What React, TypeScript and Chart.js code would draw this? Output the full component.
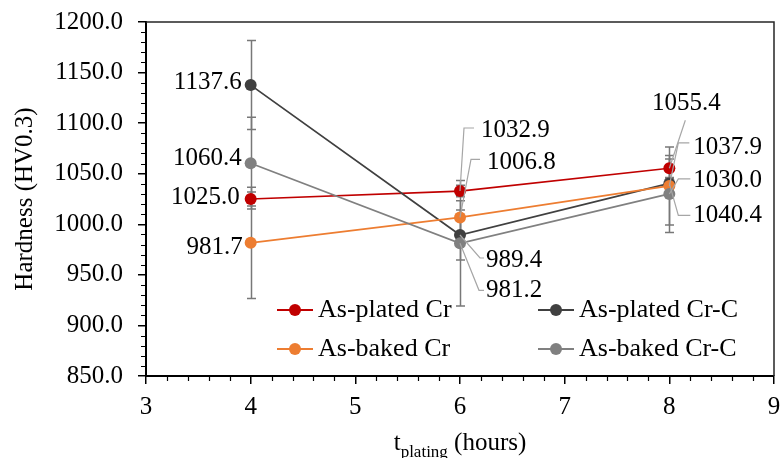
import { useEffect, useRef } from "react";
import { Chart, registerables } from "chart.js";

Chart.register(...registerables);

// ---------- data ----------
const X_VALUES = [4, 6, 8];
const SERIES_NAMES = ["As-plated Cr", "As-plated Cr-C", "As-baked Cr", "As-baked Cr-C"];
const PLATED_CR = [1025.0, 1032.9, 1055.4];
const PLATED_CR_C = [1137.6, 989.4, 1040.4];
const BAKED_CR = [981.7, 1006.8, 1037.9];
const BAKED_CR_C = [1060.4, 981.2, 1030.0];
const PLATED_CR_ERR = [7, 5.6, 9.1];
const PLATED_CR_C_ERR = [44, 24.7, 5];
const BAKED_CR_ERR = [55, 16.5, 38.6];
const BAKED_CR_C_ERR = [45.4, 62, 38];
const X_MIN = 3;
const X_MAX = 9;
const X_STEP = 1;
const Y_MIN = 850;
const Y_MAX = 1200;
const Y_STEP = 50;
const Y_TITLE = "Hardness (HV0.3)";
const X_TITLE_MAIN = "t";
const X_TITLE_SUB = "plating";
const X_TITLE_REST = " (hours)";

const SERIES_VALUES = [PLATED_CR, PLATED_CR_C, BAKED_CR, BAKED_CR_C];
const SERIES_ERRORS = [PLATED_CR_ERR, PLATED_CR_C_ERR, BAKED_CR_ERR, BAKED_CR_C_ERR];

// ---------- styles ----------
const COLORS = ["#C00000", "#404040", "#ED7D31", "#808080"];
const FONT_FAMILY = "'Liberation Serif', 'Times New Roman', serif";
const FONT_SIZE = 25;
const LEGEND_FONT_SIZE = 26;
const ERR_COLOR = "#787878";
const LEADER_COLOR = "#A6A6A6";

type LabelSpec = { s: number; i: number; align: CanvasTextAlign; dx: number; dy: number; leader: number[] | null };
const LABEL_LAYOUT: LabelSpec[] = [
  { s: 1, i: 0, align: "right", dx: -9, dy: -3, leader: null },
  { s: 3, i: 0, align: "right", dx: -9, dy: -5, leader: null },
  { s: 0, i: 0, align: "right", dx: -11, dy: -2, leader: null },
  { s: 2, i: 0, align: "right", dx: -8, dy: 5, leader: null },
  { s: 0, i: 1, align: "left", dx: 21, dy: -61, leader: [4, -63, 14] },
  { s: 2, i: 1, align: "left", dx: 27, dy: -55, leader: [11, -58, 20] },
  { s: 1, i: 1, align: "left", dx: 26, dy: 25, leader: [20, 23, 24] },
  { s: 3, i: 1, align: "left", dx: 26, dy: 47, leader: [19, 47, 24] },
  { s: 0, i: 2, align: "center", dx: 17, dy: -65, leader: [16, -48, 16] },
  { s: 2, i: 2, align: "left", dx: 24, dy: -39, leader: [9, -43, 20] },
  { s: 3, i: 2, align: "left", dx: 24, dy: -14, leader: [9, -15, 21] },
  { s: 1, i: 2, align: "left", dx: 24, dy: 32, leader: [9, 32, 21] },
];

const LEGEND_COLS = [277, 538];
const LEGEND_ROWS = [310, 349];

const decorPlugin = {
  id: "decor",
  beforeDatasetsDraw(chart: any) {
    const { ctx, chartArea: a, scales } = chart;
    const x = scales.x;
    const y = scales.y;
    ctx.save();
    ctx.strokeStyle = "#262626";
    ctx.lineWidth = 1.5;
    ctx.beginPath();
    ctx.moveTo(a.left, a.top);
    ctx.lineTo(a.right, a.top);
    ctx.lineTo(a.right, a.bottom);
    ctx.stroke();
    ctx.strokeStyle = ERR_COLOR;
    ctx.lineWidth = 1.5;
    SERIES_VALUES.forEach((vals, s) => {
      vals.forEach((v, i) => {
        const e = SERIES_ERRORS[s][i];
        const px = Math.round(x.getPixelForValue(X_VALUES[i])) + 0.5;
        const t = y.getPixelForValue(v + e);
        const b = y.getPixelForValue(v - e);
        ctx.beginPath();
        ctx.moveTo(px, t);
        ctx.lineTo(px, b);
        ctx.moveTo(px - 4.5, t);
        ctx.lineTo(px + 4.5, t);
        ctx.moveTo(px - 4.5, b);
        ctx.lineTo(px + 4.5, b);
        ctx.stroke();
      });
    });
    ctx.restore();
  },
  afterDatasetsDraw(chart: any) {
    const { ctx, scales } = chart;
    const x = scales.x;
    const y = scales.y;
    ctx.save();
    ctx.font = `${FONT_SIZE}px ${FONT_FAMILY}`;
    ctx.textBaseline = "middle";
    ctx.fillStyle = "#000";
    LABEL_LAYOUT.forEach((l) => {
      const v = SERIES_VALUES[l.s][l.i];
      const px = x.getPixelForValue(X_VALUES[l.i]);
      const py = y.getPixelForValue(v);
      if (l.leader) {
        const [cx, cy, ex] = l.leader;
        ctx.strokeStyle = LEADER_COLOR;
        ctx.lineWidth = 1.2;
        ctx.beginPath();
        ctx.moveTo(px + ex, py + cy);
        ctx.lineTo(px + cx, py + cy);
        ctx.lineTo(px, py);
        ctx.stroke();
      }
      ctx.textAlign = l.align;
      ctx.fillText(v.toFixed(1), px + l.dx, py + l.dy);
    });
    ctx.font = `${LEGEND_FONT_SIZE}px ${FONT_FAMILY}`;
    SERIES_NAMES.forEach((name, k) => {
      const col = k % 2;
      const row = Math.floor(k / 2);
      const lx = LEGEND_COLS[col];
      const ly = LEGEND_ROWS[row];
      ctx.strokeStyle = COLORS[k];
      ctx.lineWidth = 2;
      ctx.beginPath();
      ctx.moveTo(lx, ly);
      ctx.lineTo(lx + 36, ly);
      ctx.stroke();
      ctx.fillStyle = COLORS[k];
      ctx.beginPath();
      ctx.arc(lx + 18, ly, 6, 0, Math.PI * 2);
      ctx.fill();
      ctx.fillStyle = "#000";
      ctx.textAlign = "left";
      ctx.fillText(name, lx + 41, ly);
    });
    ctx.restore();
  },
  afterDraw(chart: any) {
    const { ctx, chartArea: a, scales } = chart;
    const x = scales.x;
    const y = scales.y;
    ctx.save();
    ctx.strokeStyle = "#000";
    ctx.lineWidth = 1.2;
    ctx.beginPath();
    for (let v = Y_MIN; v <= Y_MAX + 1e-6; v += Y_STEP / 5) {
      if (Math.abs((v - Y_MIN) % Y_STEP) < 1e-6) continue;
      const py = Math.round(y.getPixelForValue(v)) + 0.5;
      ctx.moveTo(a.left - 5, py);
      ctx.lineTo(a.left, py);
    }
    for (let k = 0; k <= ((X_MAX - X_MIN) / X_STEP) * 5; k++) {
      if (k % 5 === 0) continue;
      const v = X_MIN + (k * X_STEP) / 5;
      const px = Math.round(x.getPixelForValue(v)) + 0.5;
      ctx.moveTo(px, a.bottom);
      ctx.lineTo(px, a.bottom + 5);
    }
    ctx.stroke();
    const mainFont = `${FONT_SIZE}px ${FONT_FAMILY}`;
    const subFont = `17px ${FONT_FAMILY}`;
    ctx.font = mainFont;
    const w1 = ctx.measureText(X_TITLE_MAIN).width;
    const w3 = ctx.measureText(X_TITLE_REST).width;
    ctx.font = subFont;
    const w2 = ctx.measureText(X_TITLE_SUB).width;
    const total = w1 + w2 + w3;
    let sx = (a.left + a.right) / 2 - total / 2;
    const base = 450;
    ctx.fillStyle = "#000";
    ctx.textAlign = "left";
    ctx.textBaseline = "alphabetic";
    ctx.font = mainFont;
    ctx.fillText(X_TITLE_MAIN, sx, base);
    sx += w1;
    ctx.font = subFont;
    ctx.fillText(X_TITLE_SUB, sx, base + 7);
    sx += w2;
    ctx.font = mainFont;
    ctx.fillText(X_TITLE_REST, sx, base);
    ctx.restore();
  },
};

export default function App() {
  const ref = useRef<HTMLCanvasElement | null>(null);
  useEffect(() => {
    document.body.style.margin = "0";
    if (!ref.current) return;
    Chart.defaults.font.family = FONT_FAMILY;
    const chart = new Chart(ref.current, {
      type: "line",
      data: {
        datasets: SERIES_NAMES.map((name, s) => ({
          label: name,
          data: X_VALUES.map((xv, i) => ({ x: xv, y: SERIES_VALUES[s][i] })),
          borderColor: COLORS[s],
          backgroundColor: COLORS[s],
          pointBackgroundColor: COLORS[s],
          pointBorderWidth: 0,
          pointRadius: 6,
          pointHoverRadius: 6,
          borderWidth: 1.75,
          tension: 0,
          order: SERIES_NAMES.length - s,
        })),
      },
      options: {
        animation: false,
        responsive: false,
        devicePixelRatio: 1,
        layout: { padding: { top: 22, right: 4, left: 0, bottom: 0 } },
        plugins: { legend: { display: false }, tooltip: { enabled: false } },
        scales: {
          x: {
            type: "linear",
            min: X_MIN,
            max: X_MAX,
            ticks: { stepSize: X_STEP, color: "#000", font: { size: FONT_SIZE, family: FONT_FAMILY }, padding: 8 },
            grid: { drawOnChartArea: false, drawTicks: true, tickLength: 8, color: "#000", lineWidth: 1.5 },
            border: { display: true, color: "#000", width: 2 },
            afterFit: (s: any) => {
              s.height = 82;
              s.paddingLeft = 0;
              s.paddingRight = 0;
            },
          },
          y: {
            type: "linear",
            min: Y_MIN,
            max: Y_MAX,
            ticks: {
              stepSize: Y_STEP,
              color: "#000",
              font: { size: FONT_SIZE, family: FONT_FAMILY },
              padding: 15,
              callback: (v: any) => Number(v).toFixed(1),
            },
            grid: { drawOnChartArea: false, drawTicks: true, tickLength: 8, color: "#000", lineWidth: 1.5 },
            border: { display: true, color: "#000", width: 2 },
            title: {
              display: true,
              text: Y_TITLE,
              color: "#000",
              font: { size: FONT_SIZE, family: FONT_FAMILY },
              padding: { top: 10, bottom: 0 },
            },
            afterFit: (s: any) => {
              s.width = 146;
              s.paddingTop = 0;
              s.paddingBottom = 0;
            },
          },
        },
      },
      plugins: [decorPlugin],
    });
    return () => chart.destroy();
  }, []);
  return (
    <div style={{ width: 780, height: 458 }}>
      <canvas ref={ref} width={780} height={458} style={{ display: "block" }} />
    </div>
  );
}
